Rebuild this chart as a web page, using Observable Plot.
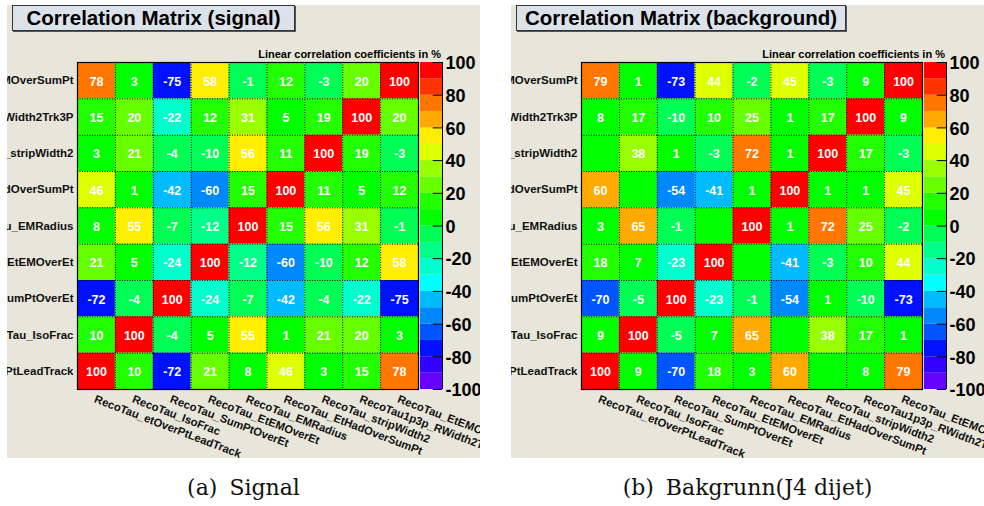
<!DOCTYPE html>
<html>
<head>
<meta charset="utf-8">
<script src="https://cdn.jsdelivr.net/npm/d3@7"></script>
<script src="https://cdn.jsdelivr.net/npm/@observablehq/plot@0.6"></script>
<style>
  html, body { margin: 0; padding: 0; background: #ffffff; }
  #root { position: relative; width: 984px; height: 506px; overflow: hidden; font-family: "Liberation Sans", Arial, sans-serif; }
  .panel { position: absolute; top: 5px; width: 473px; height: 453px; background: #e8e5da; overflow: hidden; }
  .title { position: absolute; top: 0; left: 5px; height: 26px; box-sizing: border-box; background: #dce2ea;
           border: 1px solid #333; box-shadow: 1px 1px 0 #555; font-weight: bold; font-size: 20.5px;
           line-height: 24px; text-align: center; color: #000; }
  .zlabel { position: absolute; left: 0; top: 43.5px; width: 434px; text-align: right; font-size: 11px;
            line-height: 11px; font-weight: bold; color: #000; white-space: nowrap; }
  .plotbox { position: absolute; }
  .caption { position: absolute; top: 474px; width: 473px; text-align: center; font-family: "DejaVu Serif", serif;
             font-size: 22px; line-height: 28px; color: #111; white-space: nowrap; }
  .caption .lab { margin-right: 5px; }
</style>
</head>
<body>
<div id="root"></div>
<script>
// ---- data ----
const colLabels = ["RecoTau_etOverPtLeadTrack", "RecoTau_IsoFrac", "RecoTau_SumPtOverEt", "RecoTau_EtEMOverEt",
  "RecoTau_EMRadius", "RecoTau_EtHadOverSumPt", "RecoTau_stripWidth2", "RecoTau1p3p_RWidth2Trk3P", "RecoTau_EtEMOverSumPt"];
// rows listed top to bottom
const rowLabels = ["RecoTau_EtEMOverSumPt", "RecoTau1p3p_RWidth2Trk3P", "RecoTau_stripWidth2", "RecoTau_EtHadOverSumPt",
  "RecoTau_EMRadius", "RecoTau_EtEMOverEt", "RecoTau_SumPtOverEt", "RecoTau_IsoFrac", "RecoTau_etOverPtLeadTrack"];

const signal = [
  [78, 3, -75, 58, -1, 12, -3, 20, 100],
  [15, 20, -22, 12, 31, 5, 19, 100, 20],
  [3, 21, -4, -10, 56, 11, 100, 19, -3],
  [46, 1, -42, -60, 15, 100, 11, 5, 12],
  [8, 55, -7, -12, 100, 15, 56, 31, -1],
  [21, 5, -24, 100, -12, -60, -10, 12, 58],
  [-72, -4, 100, -24, -7, -42, -4, -22, -75],
  [10, 100, -4, 5, 55, 1, 21, 20, 3],
  [100, 10, -72, 21, 8, 46, 3, 15, 78]
];
const background = [
  [79, 1, -73, 44, -2, 45, -3, 9, 100],
  [8, 17, -10, 10, 25, 1, 17, 100, 9],
  [0, 38, 1, -3, 72, 1, 100, 17, -3],
  [60, 0, -54, -41, 1, 100, 1, 1, 45],
  [3, 65, -1, 0, 100, 1, 72, 25, -2],
  [18, 7, -23, 100, 0, -41, -3, 10, 44],
  [-70, -5, 100, -23, -1, -54, 1, -10, -73],
  [9, 100, -5, 7, 65, 0, 38, 17, 1],
  [100, 9, -70, 18, 3, 60, 0, 8, 79]
];

const colorThresholds = [-90, -80, -70, -60, -50, -40, -30, -20, -10, 0, 10, 20, 30, 40, 50, 60, 70, 80, 90];
const paletteColors = ["#6600ff", "#3300ff", "#0011ff", "#0055ff", "#0088ff", "#00bbff", "#00ffff", "#00ffcc",
  "#00ff88", "#00ff55", "#00ff00", "#22ff00", "#66ff00", "#99ff00", "#ddff00", "#ffee00", "#ffaa00", "#ff7700",
  "#ff3300", "#ff0000"];
const barLevels = [-100, -90, -80, -70, -60, -50, -40, -30, -20, -10, 0, 10, 20, 30, 40, 50, 60, 70, 80, 90];
const barTicks = [-100, -80, -60, -40, -20, 0, 20, 40, 60, 80, 100];

const panels = [
  {title: "Correlation Matrix (signal)", titleWidth: 283, values: signal, lab: "(a)", caption: "Signal", left: 7},
  {title: "Correlation Matrix (background)", titleWidth: 330, values: background, lab: "(b)", caption: "Bakgrunn(J4 dijet)", left: 511}
];

const colorOpts = {type: "threshold", domain: colorThresholds, range: paletteColors};
const svgStyle = {background: "transparent", overflow: "visible", fontFamily: "'Liberation Sans', Arial, sans-serif", color: "#000"};
const gridIdx = d3.range(1, colLabels.length);

function matrixPlot(values) {
  const cells = [];
  values.forEach((r, i) => r.forEach((v, j) => cells.push({i, j, v})));
  return Plot.plot({
    width: 473, height: 453,
    marginLeft: 70, marginTop: 57, marginRight: 62, marginBottom: 69,
    x: {domain: [0, colLabels.length], axis: null},
    y: {domain: [0, rowLabels.length], reverse: true, axis: null},
    color: colorOpts,
    style: svgStyle,
    marks: [
      Plot.rect(cells, {x1: d => d.j, x2: d => d.j + 1, y1: d => d.i, y2: d => d.i + 1, fill: "v", inset: 0}),
      Plot.ruleX(gridIdx, {stroke: "#000", strokeWidth: 1, strokeDasharray: "1,1.5"}),
      Plot.ruleY(gridIdx, {stroke: "#000", strokeWidth: 1, strokeDasharray: "1,1.5"}),
      Plot.frame({stroke: "#000", strokeWidth: 1.2}),
      Plot.text(cells.filter(d => d.v !== 0), {x: d => d.j + 0.5, y: d => d.i + 0.5, text: d => String(d.v),
        fill: "white", fontWeight: "bold", fontSize: 12.5, dy: 1}),
      Plot.text(rowLabels, {y: (d, i) => i + 0.5, frameAnchor: "left", textAnchor: "end", dx: -4,
        fontSize: 11.5, fontWeight: "bold", fill: "#111"}),
      Plot.text(colLabels, {x: (d, i) => i + 0.5, frameAnchor: "bottom", rotate: 21, textAnchor: "start",
        lineAnchor: "top", dy: 5, fontSize: 11.3, fontWeight: "bold", fill: "#111"})
    ]
  });
}

function colorBarPlot() {
  return Plot.plot({
    width: 60, height: 350,
    marginLeft: 0, marginRight: 38, marginTop: 12, marginBottom: 11,
    x: {domain: [0, 1], axis: null},
    y: {domain: [-100, 100], axis: null},
    color: colorOpts,
    style: svgStyle,
    marks: [
      Plot.rect(barLevels, {x1: 0, x2: 1, y1: d => d, y2: d => d + 10, fill: d => d}),
      Plot.ruleY(barTicks, {y: d => d, x1: 0.58, x2: 1, stroke: "#000", strokeWidth: 1}),
      Plot.ruleX([1], {stroke: "#000", strokeWidth: 1}),
      Plot.text(barTicks, {y: d => d, frameAnchor: "right", textAnchor: "start", dx: 3, dy: 1,
        text: d => String(d), fontSize: 18, fontWeight: "bold", fill: "#000"})
    ]
  });
}

const root = document.getElementById("root");
for (const p of panels) {
  const panel = document.createElement("div");
  panel.className = "panel";
  panel.style.left = p.left + "px";
  root.appendChild(panel);

  const t = document.createElement("div");
  t.className = "title";
  t.style.width = p.titleWidth + "px";
  t.textContent = p.title;
  panel.appendChild(t);

  const z = document.createElement("div");
  z.className = "zlabel";
  z.textContent = "Linear correlation coefficients in %";
  panel.appendChild(z);

  const m = document.createElement("div");
  m.className = "plotbox";
  m.style.left = "0px"; m.style.top = "0px";
  m.appendChild(matrixPlot(p.values));
  panel.appendChild(m);

  const cb = document.createElement("div");
  cb.className = "plotbox";
  cb.style.left = "413px"; cb.style.top = "45px";
  cb.appendChild(colorBarPlot());
  panel.appendChild(cb);

  const c = document.createElement("div");
  c.className = "caption";
  c.style.left = p.left + "px";
  const lab = document.createElement("span");
  lab.className = "lab";
  lab.textContent = p.lab;
  c.appendChild(lab);
  c.appendChild(document.createTextNode(" " + p.caption));
  root.appendChild(c);
}
</script>
</body>
</html>
